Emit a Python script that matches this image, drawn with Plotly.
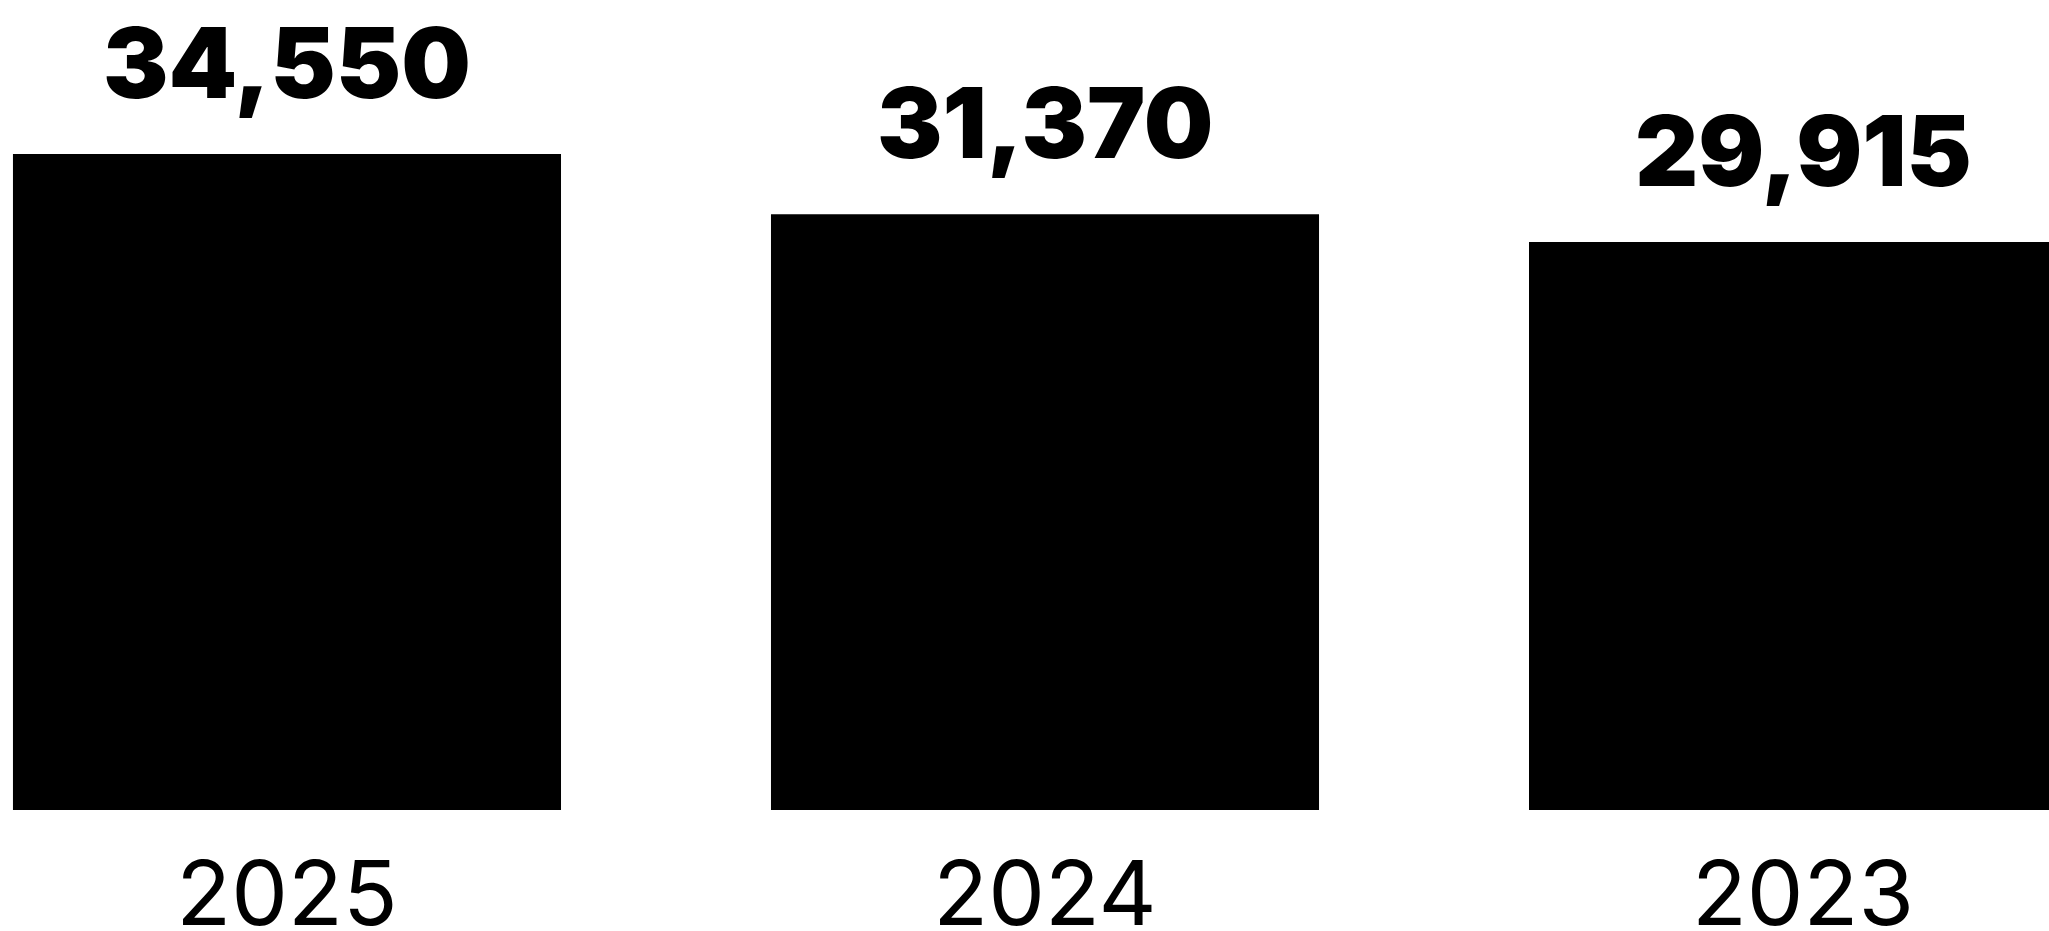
import plotly.graph_objects as go

years = ["2025", "2024", "2023"]
values = [34550, 31370, 29915]
value_labels = [f"{v:,}" for v in values]

fig = go.Figure()
fig.add_trace(go.Bar(
    x=years,
    y=values,
    marker=dict(color="#000000", line=dict(width=0)),
    width=0.723,
    hoverinfo="skip",
))

for i, (v, lab) in enumerate(zip(values, value_labels)):
    fig.add_annotation(
        xref="x", yref="y",
        x=i, y=v, text=lab, showarrow=False,
        xanchor="center", yanchor="bottom",
        yshift=30,
        font=dict(family="Inter", size=98, color="#000000", weight=900),
    )

fig.update_layout(
    width=2049, height=931,
    margin=dict(l=0, r=0, t=0, b=121, pad=0, autoexpand=False),
    paper_bgcolor="#ffffff",
    plot_bgcolor="#ffffff",
    showlegend=False,
    xaxis=dict(
        type="category",
        range=[-0.3786, 2.3245],
        showgrid=False, zeroline=False, showline=False,
        ticks="", tickfont=dict(family="Inter", size=90, color="#000000", weight=400),
        ticklabelstandoff=24,
        automargin=False,
        fixedrange=True,
    ),
    yaxis=dict(
        range=[0, 42660],
        visible=False,
        showgrid=False, zeroline=False,
        automargin=False,
        fixedrange=True,
    ),
)

fig.write_html("out.html")
